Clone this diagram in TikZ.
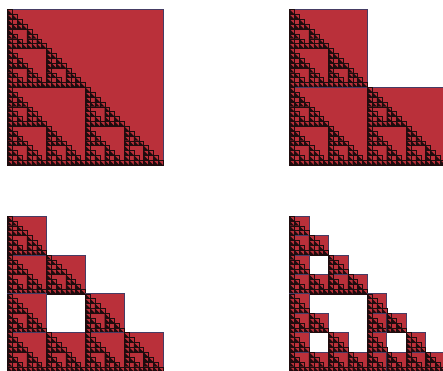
\documentclass[tikz,border=0pt]{standalone}
\definecolor{sred}{RGB}{186,48,58}
\definecolor{sedge}{RGB}{70,60,100}
\definecolor{sdark}{RGB}{30,12,14}
\tikzset{
  cellbox/.style={fill=sred, draw=sedge, line width=0.6pt},
  finebox/.style={fill=sred, draw=sdark, line width=0.3pt},
  finetri/.style={fill=sdark},
}
% fine recursion: level, x, y(top), size
\newcommand\SierpFine[4]{%
  \ifnum#1=0
    \draw[finebox] (#2,#3) rectangle ++(#4,#4);%
    \fill[finetri] (#2,#3) -- ++(0,#4) -- ++(#4,0) -- cycle;%
  \else
    \begingroup
    \pgfmathsetmacro\sHalf{#4/2}%
    \pgfmathsetmacro\sXm{#2+\sHalf}%
    \pgfmathsetmacro\sYm{#3+\sHalf}%
    \pgfmathtruncatemacro\sLv{#1-1}%
    \edef\sNext{\noexpand\SierpFine{\sLv}{#2}{#3}{\sHalf}\noexpand\SierpFine{\sLv}{#2}{\sYm}{\sHalf}\noexpand\SierpFine{\sLv}{\sXm}{\sYm}{\sHalf}}%
    \expandafter\endgroup\sNext
  \fi}
% panel recursion: coarse level, fine depth, x, y(top), size
\newcommand\SierpPanel[5]{%
  \ifnum#1=0
    \draw[cellbox] (#3,#4) rectangle ++(#5,#5);%
    \SierpFine{#2}{#3}{#4}{#5}%
  \else
    \begingroup
    \pgfmathsetmacro\pHalf{#5/2}%
    \pgfmathsetmacro\pXm{#3+\pHalf}%
    \pgfmathsetmacro\pYm{#4+\pHalf}%
    \pgfmathtruncatemacro\pLv{#1-1}%
    \pgfmathtruncatemacro\pFd{#2-1}%
    \edef\pNext{\noexpand\SierpPanel{\pLv}{\pFd}{#3}{#4}{\pHalf}\noexpand\SierpPanel{\pLv}{\pFd}{#3}{\pYm}{\pHalf}\noexpand\SierpPanel{\pLv}{\pFd}{\pXm}{\pYm}{\pHalf}}%
    \expandafter\endgroup\pNext
  \fi}
\begin{document}
\begin{tikzpicture}[x=1pt,y=-1pt]
\useasboundingbox (0,0) rectangle (443,370);
\clip (0,0) rectangle (443,370);
\SierpPanel{0}{5}{7.5}{9.5}{155.5}
\SierpPanel{1}{5}{289.5}{9.5}{155.5}
\SierpPanel{2}{5}{7.5}{216}{155.5}
\SierpPanel{3}{5}{289.5}{216}{155.5}
\end{tikzpicture}
\end{document}
